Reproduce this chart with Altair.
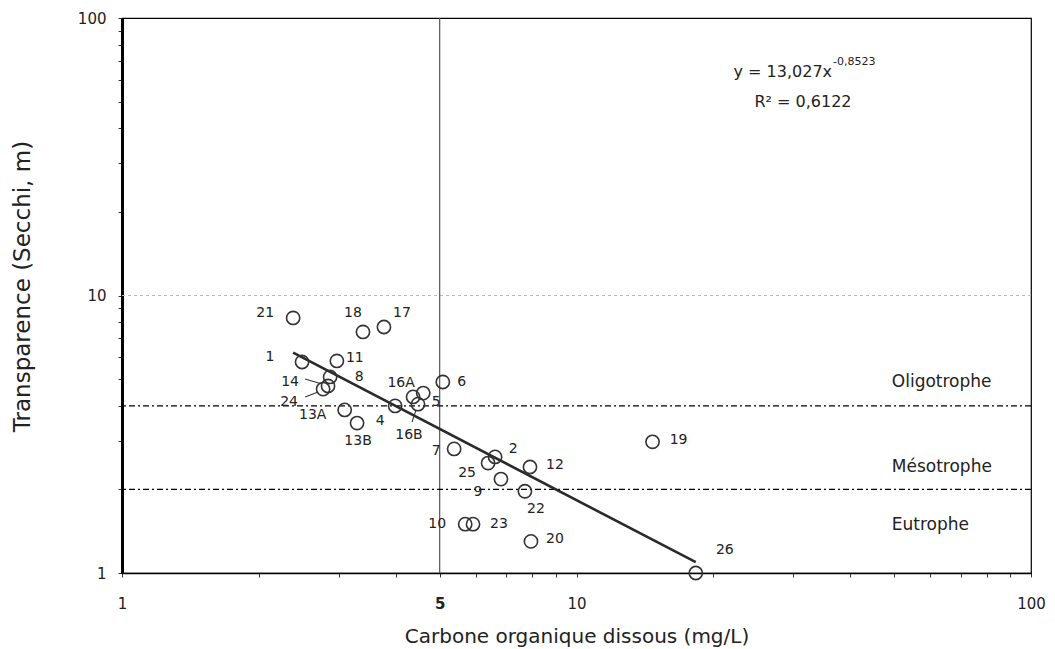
import altair as alt
import pandas as pd
import numpy as np

# ---- data ----
ids = ["1", "2", "4", "5", "6", "7", "8", "9", "10", "11", "12", "13A", "13B",
       "14", "16A", "16B", "17", "18", "19", "20", "21", "22", "23", "24", "25", "26"]
cod = [2.49, 6.62, 3.99, 4.60, 5.08, 5.38, 2.87, 6.82, 5.69, 2.97, 7.90, 3.09, 3.29,
       2.84, 4.37, 4.48, 3.77, 3.39, 14.7, 7.94, 2.38, 7.70, 5.92, 2.77, 6.39, 18.3]
secchi = [5.76, 2.62, 4.00, 4.45, 4.88, 2.80, 5.09, 2.18, 1.50, 5.81, 2.41, 3.87, 3.47,
          4.72, 4.31, 4.06, 7.70, 7.39, 2.97, 1.30, 8.30, 1.97, 1.50, 4.60, 2.49, 1.00]

# label placement (pixel offsets from the point)
label_dx = [-32, 18, -15, 13, 19, -18, 29, -23, -28, 18, 25, -32, 1,
            -38, -12, -9, 18, -10, 26, 24, -28, 11, 26, -34, -21, 29]
label_dy = [-5, -8, 15, 9, 0, 2, 0, 13, 0, -3, -2, 5, 18,
            -4, -14, 31, -14, -19, -2, -2, -5, 18, 0, 13, 10, -23]

# regression given on the chart
coef_a = 13.027
coef_b = -0.8523

trophic_limits = [4, 2]
zone_names = ["Oligotrophe", "Mésotrophe", "Eutrophe"]
zone_y = [4.88, 2.41, 1.49]

x_ticks = [1, 2, 3, 4, 5, 6, 7, 8, 9, 10, 20, 30, 40, 50, 60, 70, 80, 90, 100]
x_labels = [1, 5, 10, 100]
y_ticks = [1, 2, 3, 4, 5, 6, 7, 8, 9, 10, 20, 30, 40, 50, 60, 70, 80, 90, 100]
y_labels = [1, 10, 100]

FONT = "DejaVu Sans"
INK = "#222222"

df = pd.DataFrame({"id": ids, "cod": cod, "secchi": secchi,
                   "ldx": label_dx, "ldy": label_dy})

fit_x = np.array([min(cod), max(cod)])
fit_df = pd.DataFrame({"cod": fit_x, "secchi": coef_a * fit_x ** coef_b})

xscale = alt.Scale(type="log", domain=[1, 100], nice=False)
yscale = alt.Scale(type="log", domain=[1, 100], nice=False)

xlab_test = "indexof(%s, datum.value) >= 0" % str(x_labels)
ylab_test = "indexof(%s, datum.value) >= 0" % str(y_labels)

x_axis = alt.Axis(
    title="Carbone organique dissous (mg/L)", values=x_ticks,
    labelExpr=f"{xlab_test} ? datum.value + '' : ''",
    labelOverlap=False, labelFlush=False, labelBound=False,
    labelFontWeight={"condition": {"test": "datum.value == 5", "value": "bold"}, "value": "normal"},
    labelFont=FONT, labelFontSize=15, labelColor=INK, labelPadding=19,
    titleFont=FONT, titleFontSize=20, titleFontWeight="normal", titleColor=INK,
    titleY=63, titleBaseline="middle",
    tickSize=4, tickColor="#333", domainColor="black", domainWidth=1.5, grid=False)

y_axis = alt.Axis(
    title="Transparence (Secchi, m)", values=y_ticks,
    labelExpr=f"{ylab_test} ? datum.value + '' : ''",
    labelOverlap=False, labelFlush=False, labelBound=False,
    labelFont=FONT, labelFontSize=15, labelColor=INK, labelPadding=12,
    titleFont=FONT, titleFontSize=23, titleFontWeight="normal", titleColor=INK,
    titleX=-100, titleY=268, titleBaseline="middle", titleAlign="center", titleAngle=270,
    tickSize=4, tickColor="#333", domainColor="black", domainWidth=3, grid=False)

base = alt.Chart(df)

points = base.mark_point(shape="circle", filled=False, size=175, strokeWidth=1.6,
                         color="#333333", opacity=1).encode(
    x=alt.X("cod:Q", scale=xscale, axis=x_axis),
    y=alt.Y("secchi:Q", scale=yscale, axis=y_axis),
)

labels = base.mark_text(font=FONT, fontSize=14, color=INK, align="center",
                        baseline="middle",
                        dx=alt.ExprRef(expr="datum.ldx"),
                        dy=alt.ExprRef(expr="datum.ldy")).encode(
    x=alt.X("cod:Q", scale=xscale),
    y=alt.Y("secchi:Q", scale=yscale),
    text="id:N",
)

fit = alt.Chart(fit_df).mark_line(color="#2a2a2a", strokeWidth=2.6).encode(
    x=alt.X("cod:Q", scale=xscale),
    y=alt.Y("secchi:Q", scale=yscale),
)

limits = alt.Chart(pd.DataFrame({"v": trophic_limits})).mark_rule(
    color="black", strokeWidth=1.3, strokeDash=[6, 3, 2, 3]).encode(
    y=alt.Y("v:Q", scale=yscale))

grid10 = alt.Chart(pd.DataFrame({"v": [10]})).mark_rule(
    color="#bbbbbb", strokeWidth=1.2, strokeDash=[3, 3]).encode(
    y=alt.Y("v:Q", scale=yscale))

vline5 = alt.Chart(pd.DataFrame({"v": [5]})).mark_rule(
    color="#555555", strokeWidth=1.2).encode(
    x=alt.X("v:Q", scale=xscale))

zones = alt.Chart(pd.DataFrame({"name": zone_names, "y": zone_y, "x": [49.4] * 3})).mark_text(
    font=FONT, fontSize=17, color=INK, align="left", baseline="middle").encode(
    x=alt.X("x:Q", scale=xscale), y=alt.Y("y:Q", scale=yscale), text="name:N")

eq_main = alt.Chart(pd.DataFrame({"x": [36.5], "y": [63.9], "t": ["y = 13,027x"]})).mark_text(
    font=FONT, fontSize=16, color=INK, align="right", baseline="middle").encode(
    x=alt.X("x:Q", scale=xscale), y=alt.Y("y:Q", scale=yscale), text="t:N")
eq_sup = alt.Chart(pd.DataFrame({"x": [36.5], "y": [69.4], "t": ["-0,8523"]})).mark_text(
    font=FONT, fontSize=11, color=INK, align="left", baseline="middle", dx=1).encode(
    x=alt.X("x:Q", scale=xscale), y=alt.Y("y:Q", scale=yscale), text="t:N")
eq_r2 = alt.Chart(pd.DataFrame({"x": [31.5], "y": [49.8], "t": ["R² = 0,6122"]})).mark_text(
    font=FONT, fontSize=16, color=INK, align="center", baseline="middle").encode(
    x=alt.X("x:Q", scale=xscale), y=alt.Y("y:Q", scale=yscale), text="t:N")

# leader lines for crowded labels
leader_specs = [("14", -6, -2, -23, -7), ("24", -5, 3, -18, 8), ("16B", -2, 6, -6, 18)]
leaders = []
for lid, sx, sy, ex, ey in leader_specs:
    leaders.append(
        base.transform_filter(alt.datum.id == lid).mark_rule(
            color="#333", strokeWidth=1.1, xOffset=sx, yOffset=sy,
            x2Offset=ex, y2Offset=ey).encode(
            x=alt.X("cod:Q", scale=xscale), y=alt.Y("secchi:Q", scale=yscale),
            x2="cod:Q", y2="secchi:Q"))

chart = alt.layer(grid10, vline5, limits, fit, points, labels, *leaders,
                  zones, eq_main, eq_sup, eq_r2).properties(
    width=909, height=555,
    autosize=alt.AutoSizeParams(type="none"),
    padding={"left": 122, "top": 18, "right": 24, "bottom": 76},
    background="white",
).configure_view(stroke="black", strokeWidth=1.2)

chart.save("out.html", embed_options={"renderer": "svg", "actions": False})
